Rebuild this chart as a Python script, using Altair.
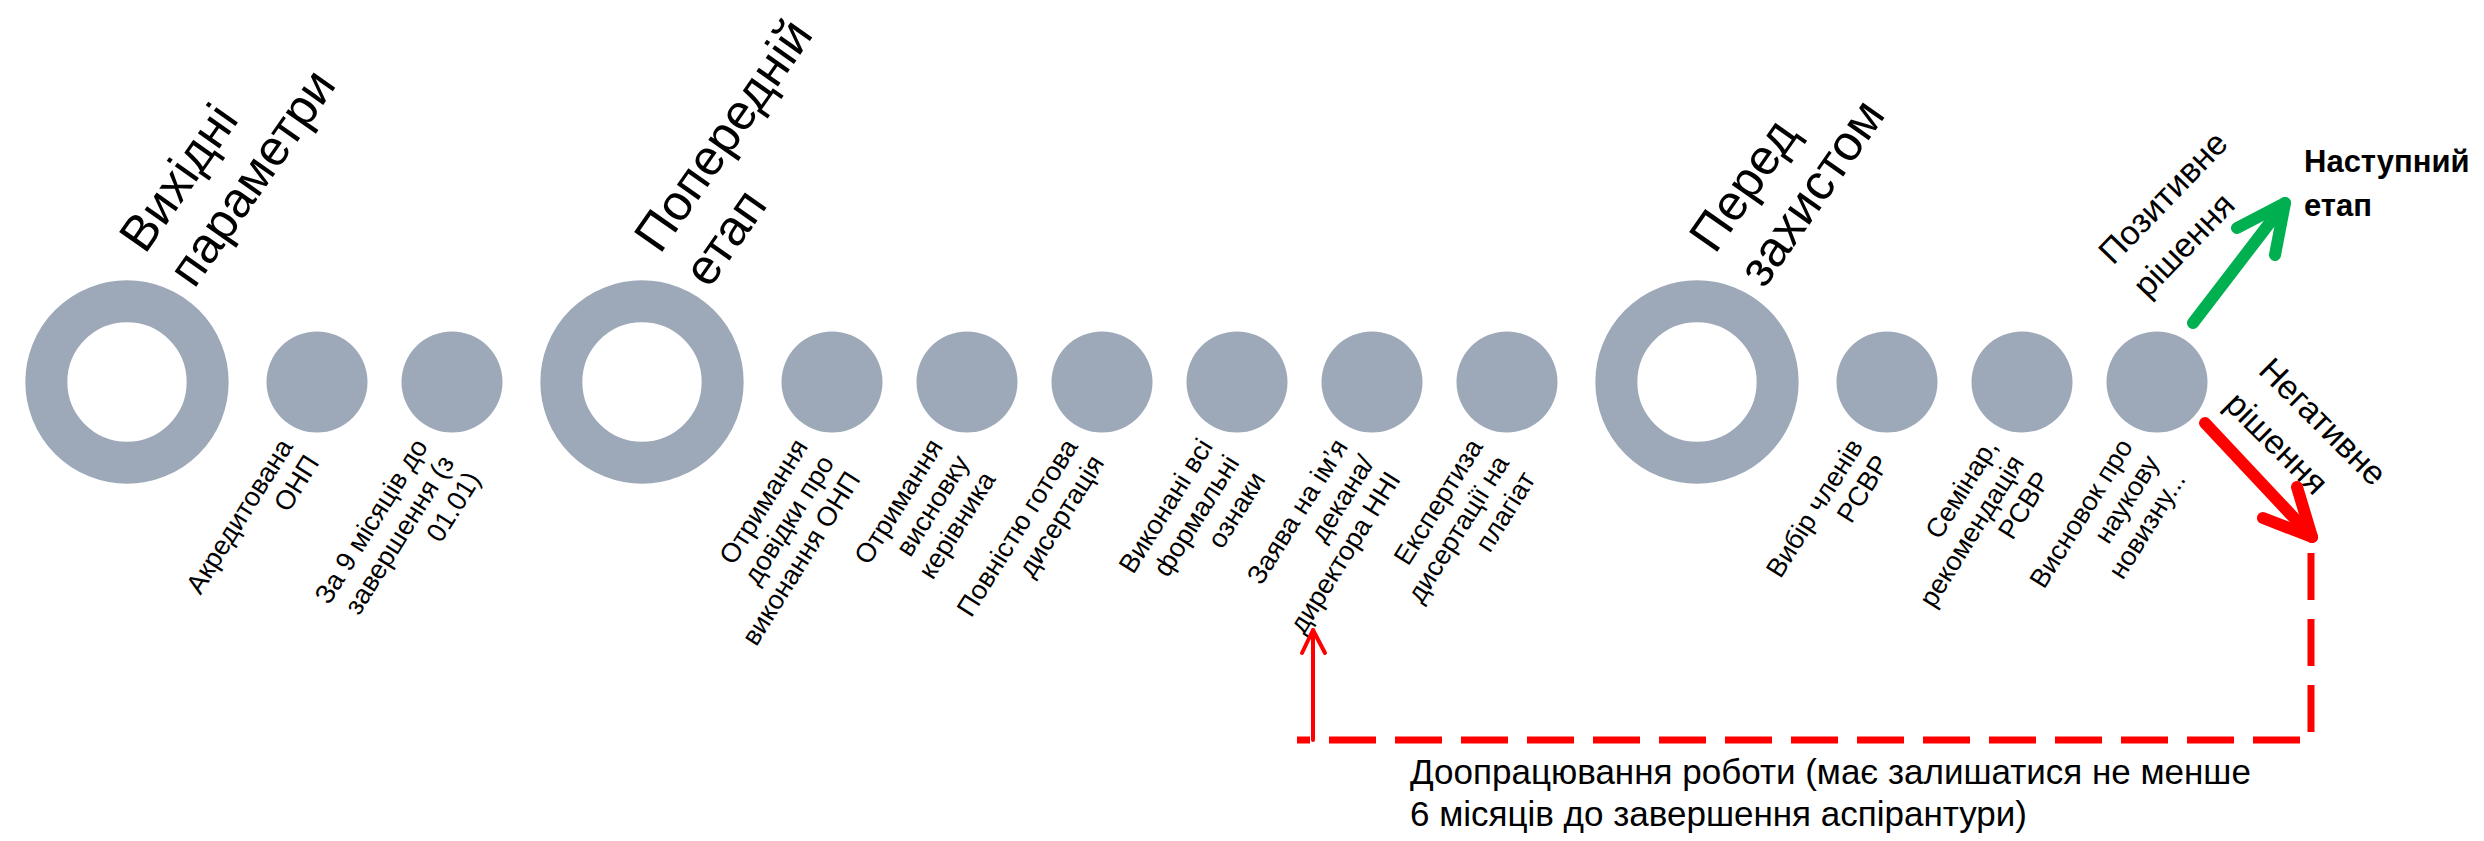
import math
import altair as alt
import pandas as pd

# ---------------- content ----------------
stage_titles = ["Вихідні\nпараметри", "Попередній\nетап", "Перед\nзахистом"]
stage_steps = [
    ["Акредитована\nОНП", "За 9 місяців до\nзавершення   (з\n01.01)"],
    ["Отримання\nдовідки про\nвиконання ОНП", "Отримання\nвисновку\nкерівника",
     "Повністю готова\nдисертація", "Виконані всі\nформальні\nознаки",
     "Заява на ім’я\nдекана/\nдиректора ННІ", "Експертиза\nдисертації на\nплагіат"],
    ["Вибір членів\nРСВР", "Семінар,\nрекомендація\nРСВР", "Висновок про\nнаукову\nновизну..."],
]
positive_label = ["Позитивне\nрішення"]
negative_label = ["Негативне\nрішення"]
next_stage_label = ["Наступний\nетап"]
rework_label = ["Доопрацювання роботи (має залишатися не менше\n6 місяців до завершення аспірантури)"]
rework_target = "Заява на ім’я\nдекана/\nдиректора ННІ"

# ---------------- layout ----------------
M = 8
W, H = 2468, 825
CY = 382
X0 = 127
STEP = 135
GAP = 190
RING_R, RING_W, DOT_R = 91, 42, 57
NODE_COLOR = "#9DA9B8"
GREEN, RED = "#00B050", "#FF0000"
FONT = "Liberation Sans, Arial, sans-serif"

rings, dots = [], []
x = X0
for title, steps in zip(stage_titles, stage_steps):
    rings.append({"x": x, "y": CY, "title": title, "tx": x + 18, "ty": CY - 127})
    x += GAP
    for s in steps:
        dots.append({"x": x, "y": CY, "label": s, "lx": x - 30, "ly": CY + 60})
        x += STEP
    x += GAP - STEP

rings_df = pd.DataFrame(rings)
dots_df = pd.DataFrame(dots)

last = dots[-1]
lx, ly = last["x"], last["y"]
target_x = [d["x"] for d in dots if d["label"] == rework_target][0]

rows = []
def poly(name, pts, color, width):
    for i, (px, py) in enumerate(pts):
        rows.append({"seg": name, "o": i, "x": px, "y": py, "c": color, "w": width})

poly("g_shaft", [(lx + 36, ly - 59), (lx + 128, ly - 179)], GREEN, 12)
poly("g_head", [(lx + 80, ly - 154), (lx + 128, ly - 179), (lx + 118, ly - 127)], GREEN, 12)
poly("r_shaft", [(lx + 48, ly + 41), (lx + 155, ly + 155)], RED, 12)
poly("r_head", [(lx + 106, ly + 136), (lx + 155, ly + 155), (lx + 140, ly + 105)], RED, 12)
ax = target_x - 59
poly("u_shaft", [(ax, 740), (ax, 630)], RED, 4)
poly("u_head", [(ax - 11, 653), (ax, 630), (ax + 12, 653)], RED, 4)
arrows_df = pd.DataFrame(rows)

dash_df = pd.DataFrame({
    "o": [0, 1, 2],
    "x": [lx + 154, lx + 154, ax - 16],
    "y": [553, 740, 740],
})

xs = alt.Scale(domain=[M, M + W], nice=False, zero=False)
ys = alt.Scale(domain=[M, M + H], nice=False, zero=False, reverse=True)

def X(f):
    return alt.X(f, type="quantitative", scale=xs, axis=None)

def Y(f):
    return alt.Y(f, type="quantitative", scale=ys, axis=None)

ring_layer = alt.Chart(rings_df).mark_point(
    shape="circle", filled=False, strokeWidth=RING_W, opacity=1,
    size=math.pi * RING_R ** 2, color=NODE_COLOR
).encode(x=X("x"), y=Y("y"))

dot_layer = alt.Chart(dots_df).mark_circle(
    size=math.pi * DOT_R ** 2, opacity=1, color=NODE_COLOR
).encode(x=X("x"), y=Y("y"))

title_layer = alt.Chart(rings_df).mark_text(
    align="left", baseline="alphabetic", angle=305, fontSize=50, lineHeight=60,
    font=FONT, color="black", lineBreak="\n"
).encode(x=X("tx"), y=Y("ty"), text="title:N")

label_layer = alt.Chart(dots_df).mark_text(
    align="right", baseline="middle", angle=302, fontSize=27, lineHeight=31,
    font=FONT, color="black", lineBreak="\n"
).encode(x=X("lx"), y=Y("ly"), text="label:N")

pos_df = pd.DataFrame({"t": positive_label, "x": [lx - 44], "y": [ly - 116]})
pos_layer = alt.Chart(pos_df).mark_text(
    align="left", baseline="alphabetic", angle=314, fontSize=34, lineHeight=48,
    font=FONT, color="black", lineBreak="\n"
).encode(x=X("x"), y=Y("y"), text="t:N")

neg_df = pd.DataFrame({"t": negative_label, "x": [lx + 100], "y": [ly - 10]})
neg_layer = alt.Chart(neg_df).mark_text(
    align="left", baseline="alphabetic", angle=45, fontSize=34, lineHeight=48,
    font=FONT, color="black", lineBreak="\n"
).encode(x=X("x"), y=Y("y"), text="t:N")

next_df = pd.DataFrame({"t": next_stage_label, "x": [lx + 147], "y": [172]})
next_layer = alt.Chart(next_df).mark_text(
    align="left", baseline="alphabetic", fontSize=31, fontWeight="bold", lineHeight=44,
    font=FONT, color="black", lineBreak="\n"
).encode(x=X("x"), y=Y("y"), text="t:N")

note_df = pd.DataFrame({"t": rework_label, "x": [ax + 97], "y": [784]})
note_layer = alt.Chart(note_df).mark_text(
    align="left", baseline="alphabetic", fontSize=35, lineHeight=42,
    font=FONT, color="black", lineBreak="\n"
).encode(x=X("x"), y=Y("y"), text="t:N")

arrow_layer = alt.Chart(arrows_df).mark_line(
    strokeCap="round", strokeJoin="round"
).encode(
    x=X("x"), y=Y("y"), detail="seg:N", order=alt.Order("o:Q"),
    color=alt.Color("c:N", scale=None), strokeWidth=alt.StrokeWidth("w:Q", scale=None)
)

dash_layer = alt.Chart(dash_df).mark_line(
    color=RED, strokeWidth=7, strokeDash=[47, 19], strokeCap="butt", strokeJoin="miter"
).encode(x=X("x"), y=Y("y"), order=alt.Order("o:Q"))

chart = alt.layer(
    ring_layer, dot_layer, title_layer, label_layer, pos_layer, neg_layer,
    next_layer, note_layer, dash_layer, arrow_layer
).properties(
    width=W, height=H, padding=0, autosize=alt.AutoSizeParams(type="none"),
    background="white"
).configure_view(strokeWidth=0)

chart.save("out.html", embed_options={"renderer": "svg", "actions": False})
